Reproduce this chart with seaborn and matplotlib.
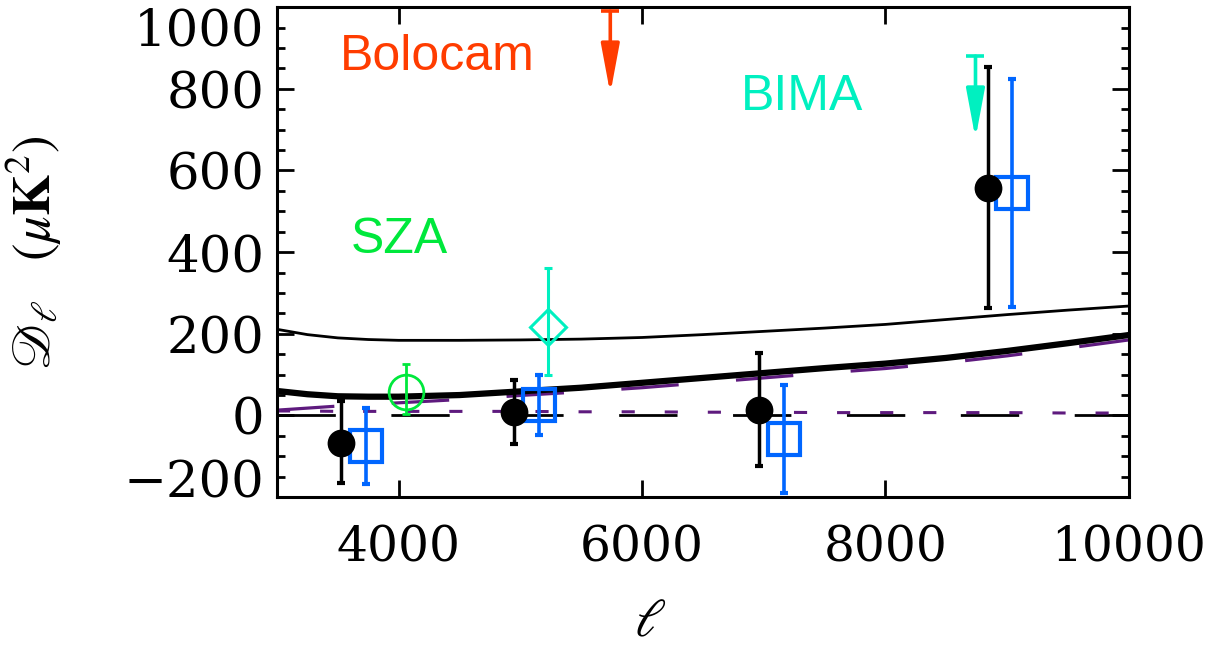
import matplotlib
matplotlib.use("Agg")
import matplotlib.pyplot as plt
import matplotlib.transforms as mtransforms
from matplotlib.ticker import MultipleLocator
import seaborn as sns

# model curves
ell_model = [3000, 3250, 3500, 3750, 4000, 4500, 5000, 5500, 6000, 6500, 7000, 7500, 8000, 8500, 9000, 9500, 10000]
total_model = [211, 198, 190, 186, 184, 184, 185, 187, 191, 198, 206, 214, 223, 235, 247, 258, 268]
best_model = [60, 52, 47, 46, 46, 50, 59, 68, 80, 92, 104, 116, 127, 141, 158, 177, 197]
poisson_model = [13, 18, 23, 27, 31, 39, 49, 58, 68, 80, 92, 104, 115, 129, 146, 165, 185]
sz_model = [11, 11, 10, 10, 10, 10, 10, 9, 9, 8, 8, 7, 7, 7, 7, 6, 6]

# black filled circles
ell_black = [3525, 4950, 6965, 8840]
d_black = [-67, 8, 13, 557]
lo_black = [98, 77, 137, 294]
hi_black = [102, 78, 139, 296]

# blue open squares
ell_blue = [3730, 5150, 7165, 9040]
d_blue = [-75, 25, -58, 545]
lo_blue = [94, 74, 133, 279]
hi_blue = [94, 75, 132, 279]

# SZA
ell_sza = [4060]
d_sza = [58]
lo_sza = [54]
hi_sza = [67]

# BIMA point
ell_bima = [5229]
d_bima = [217]
lo_bima = [117]
hi_bima = [143]

# upper limits: (ell, cap, arrow tip)
ell_bolo_lim = 5739
cap_bolo_lim = 990
tip_bolo_lim = 788
ell_bima_lim = 8740
cap_bima_lim = 880
tip_bima_lim = 678

xtick_vals = [4000, 6000, 8000, 10000]
xtick_labels = ['4000', '6000', '8000', '10000']
ytick_vals = [-200, 0, 200, 400, 600, 800, 1000]
ytick_labels = ['\u2212200', '0', '200', '400', '600', '800', '1000']

c_bolo = '#ff3c00'
c_bima = '#00f0c0'
c_sza = '#00e83c'
c_blue = '#0066ff'
c_purple = '#5e1a7e'

sns.set_style("ticks")
plt.rcParams['mathtext.fontset'] = 'stix'
plt.rcParams['font.family'] = ['DejaVu Serif']
for k in ['text.color', 'axes.labelcolor', 'xtick.color', 'ytick.color']:
    plt.rcParams[k] = 'black'

fig = plt.figure(figsize=(12.31, 6.49), dpi=100)
ax = fig.add_axes([0.225, 0.234, 0.692, 0.755])

# zero line
ax.axhline(0, color='black', lw=2, linestyle=(0, (21, 20)), zorder=1)

sns.lineplot(x=ell_model, y=total_model, ax=ax, color='black', lw=2, zorder=2)
sns.lineplot(x=ell_model, y=poisson_model, ax=ax, color=c_purple, lw=2.3,
             linestyle=(0, (18, 18)), zorder=2)
sns.lineplot(x=ell_model, y=best_model, ax=ax, color='black', lw=4.5, zorder=2)
sns.lineplot(x=ell_model, y=sz_model, ax=ax, color=c_purple, lw=2.2,
             linestyle=(0, (4.3, 9.8)), zorder=2)

# error bars
ax.errorbar(ell_blue, d_blue, yerr=[lo_blue, hi_blue], fmt='s', ms=23, mfc='none',
            mec=c_blue, mew=3, ecolor=c_blue, elinewidth=2.6, capsize=3, capthick=3, zorder=3)
ax.errorbar(ell_black, d_black, yerr=[lo_black, hi_black], fmt='none',
            ecolor='black', elinewidth=2.5, capsize=3, capthick=3, zorder=4)
sns.scatterplot(x=ell_black, y=d_black, ax=ax, color='black', s=400, edgecolor='black',
                linewidth=0, zorder=5)
ax.errorbar(ell_sza, d_sza, yerr=[lo_sza, hi_sza], fmt='o', ms=25, mfc='none',
            mec=c_sza, mew=2, ecolor=c_sza, elinewidth=2, capsize=3, capthick=3, zorder=3)
ax.errorbar(ell_bima, d_bima, yerr=[lo_bima, hi_bima], fmt='D', ms=18.5, mfc='none',
            mec=c_bima, mew=2.2, ecolor=c_bima, elinewidth=2.2, capsize=3, capthick=3, zorder=3)

# upper limit arrows
for xl, cap, tip, col in [(ell_bolo_lim, cap_bolo_lim, tip_bolo_lim, c_bolo),
                          (ell_bima_lim, cap_bima_lim, tip_bima_lim, c_bima)]:
    ax.annotate('', xy=(xl, tip), xytext=(xl, cap),
                arrowprops=dict(arrowstyle='-|>,head_length=1.5,head_width=0.28',
                                color=col, lw=2.6, mutation_scale=20, shrinkA=0, shrinkB=0),
                zorder=3)
    ax.plot([xl], [cap], marker='_', ms=13, mew=2.6, color=col, zorder=3)

# experiment names
ax.text(3517, 845, 'Bolocam', color=c_bolo, fontsize=36, family='Liberation Sans',
        ha='left', va='baseline')
ax.text(6814, 749, 'BIMA', color=c_bima, fontsize=36, family='Liberation Sans',
        ha='left', va='baseline')
ax.text(3607, 399, 'SZA', color=c_sza, fontsize=36, family='Liberation Sans',
        ha='left', va='baseline')

ax.set_xlim(3000, 10000)
ax.set_ylim(-200, 1000)
ax.set_xticks(xtick_vals, xtick_labels)
ax.set_yticks(ytick_vals, ytick_labels)
ax.yaxis.set_minor_locator(MultipleLocator(50))
ax.tick_params(which='both', direction='in', top=True, right=True, width=2, color='black')
ax.tick_params(which='major', length=12)
ax.tick_params(which='minor', length=6)
ax.tick_params(axis='x', pad=20, labelsize=35)
ax.tick_params(axis='y', pad=9, labelsize=37)
for sp in ax.spines.values():
    sp.set_linewidth(2.2)
    sp.set_color('black')

# IDL style: end labels pulled inside the axis range
yticks = ax.yaxis.get_major_ticks()
for tk, dy in [(yticks[0], 19), (yticks[-1], -19)]:
    lab = tk.label1
    lab.set_transform(lab.get_transform() +
                      mtransforms.ScaledTranslation(0, dy / 100, fig.dpi_scale_trans))

ax.set_xlabel(r'$\ell$', fontsize=38)
ax.xaxis.set_label_coords(0.438, -0.255)
ax.xaxis.label.set_va('center')
ax.set_ylabel(r'$\mathscr{D}_{\ell}\quad(\mu\mathbf{K}^{2})$', fontsize=38)
ax.yaxis.set_label_coords(-0.285, 0.5)
ax.yaxis.label.set_va('center')

fig.savefig('out.png', dpi=100)
